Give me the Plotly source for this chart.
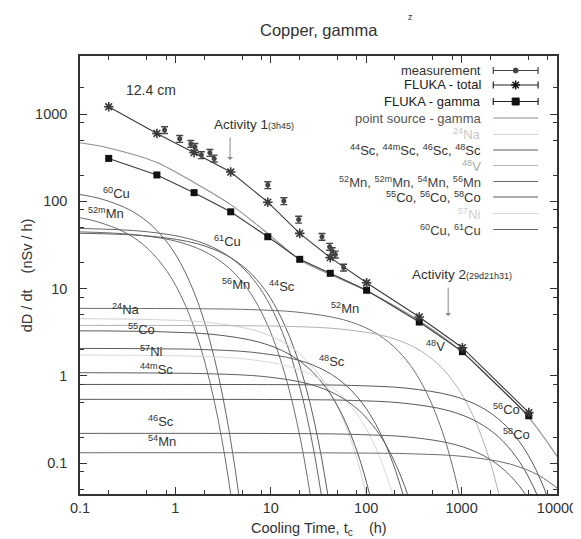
import plotly.graph_objects as go

# ---------------- data ----------------
fluka_t = [0.2, 0.64, 1.57, 3.8, 9.3, 20.1, 42, 101, 360, 1019, 5060]
fluka_total = [1216, 601, 362, 217, 98, 43, 22.7, 11.7, 4.74, 2.11, 0.38]
fluka_gamma = [311, 201, 126, 76, 39.4, 21.7, 15.0, 9.6, 4.15, 1.90, 0.35]

meas_t = [0.77, 1.11, 1.45, 1.6, 1.87, 2.3, 2.55, 9.3, 13.7, 19.6, 34.4, 41.4, 44, 47.5, 58]
meas_d = [658, 522, 458, 423, 340, 361, 311, 154, 101, 62, 39.4, 30.3, 27, 24.7, 17.5]
meas_err_pct = 9

sum_t = [0.1, 0.2, 0.64, 1.57, 3.8, 9.3, 20, 42, 100, 360, 1000, 5000, 10000]
sum_d = [470, 410, 280, 165, 92, 43, 21.5, 14.5, 9.5, 4.3, 1.9, 0.34, 0.12]

cu60_t = [0.1, 0.171, 0.342, 0.57, 0.855, 1.14, 1.425, 1.71, 1.995, 2.28, 2.565, 2.85, 3.135, 3.42, 3.705, 3.99, 4.275, 4.56, 5.13]
cu60_d = [120, 106, 78.5, 52.6, 31.9, 19.4, 11.7, 7.12, 4.32, 2.62, 1.59, 0.964, 0.584, 0.354, 0.215, 0.130, 0.0791, 0.0479, 0.0176]

mn52m_t = [0.1, 0.152, 0.305, 0.508, 0.762, 1.016, 1.27, 1.524, 1.778, 2.032, 2.286, 2.54, 2.794, 3.048, 3.302, 3.556, 3.81, 4.064]
mn52m_d = [65, 58.5, 43.4, 29.1, 17.6, 10.7, 6.48, 3.93, 2.39, 1.447, 0.878, 0.532, 0.323, 0.196, 0.119, 0.0720, 0.0437, 0.0265]

mn56_t = [0.1, 0.372, 1.116, 2.232, 3.72, 5.58, 7.44, 9.3, 11.16, 13.02, 14.88, 16.74, 18.6, 20.46, 22.32, 24.18, 26.04, 27.9]
mn56_d = [44.8, 41.6, 34.1, 25.2, 16.9, 10.3, 6.22, 3.78, 2.29, 1.389, 0.843, 0.511, 0.310, 0.188, 0.114, 0.0691, 0.0420, 0.0254]

cu61_t = [0.1, 0.48, 1.44, 2.88, 4.8, 7.2, 9.6, 12.0, 14.4, 16.8, 19.2, 21.6, 24.0, 26.4, 28.8, 31.2, 33.6, 36.0]
cu61_d = [49.0, 45.2, 37.0, 27.4, 18.4, 11.2, 6.77, 4.10, 2.49, 1.51, 0.916, 0.556, 0.337, 0.204, 0.124, 0.0752, 0.0456, 0.0277]

sc44_t = [0.1, 0.573, 1.719, 3.438, 5.73, 8.6, 11.46, 14.3, 17.2, 20.1, 22.9, 25.8, 28.65, 31.5, 34.4, 37.2, 40.1, 43.0]
sc44_d = [43.2, 39.8, 32.6, 24.1, 16.2, 9.82, 5.95, 3.61, 2.19, 1.329, 0.806, 0.489, 0.296, 0.180, 0.109, 0.0661, 0.0401, 0.0243]

mn52_t = [0.1, 1.93, 5.79, 19.3, 57.9, 115.8, 193, 290, 386, 483, 579, 676, 772, 869, 965, 1062]
mn52_d = [5.95, 5.89, 5.77, 5.38, 4.41, 3.27, 2.19, 1.328, 0.805, 0.488, 0.296, 0.180, 0.109, 0.0661, 0.0401, 0.0243]

na24_t = [0.1, 0.216, 0.648, 2.16, 6.48, 12.96, 21.6, 32.4, 43.2, 54, 64.8, 75.6, 86.4, 97.2, 108]
na24_d = [4.53, 4.50, 4.41, 4.12, 3.37, 2.50, 1.674, 1.015, 0.616, 0.373, 0.227, 0.137, 0.0834, 0.0506, 0.0307]

v48_t = [0.1, 5.53, 16.6, 55.3, 166, 332, 553, 830, 1106, 1383, 1659, 1936, 2212, 2489, 2765]
v48_d = [3.80, 3.76, 3.69, 3.44, 2.82, 2.09, 1.398, 0.848, 0.514, 0.312, 0.189, 0.115, 0.0696, 0.0422, 0.0256]

co55_t = [0.1, 0.252, 0.756, 2.52, 7.56, 15.1, 25.2, 37.8, 50.4, 63, 75.6, 88.2, 100.8, 113.4, 126]
co55_d = [3.29, 3.27, 3.20, 2.99, 2.44, 1.81, 1.214, 0.736, 0.447, 0.271, 0.164, 0.0997, 0.0605, 0.0367, 0.0222]

sc48_t = [0.1, 0.63, 1.89, 6.3, 18.9, 37.8, 63, 94.5, 126, 157.5, 189, 220.5, 252, 283.5]
sc48_d = [2.07, 2.05, 2.01, 1.873, 1.533, 1.136, 0.762, 0.462, 0.280, 0.170, 0.103, 0.0625, 0.0379, 0.0230]

ni57_t = [0.1, 0.514, 1.54, 5.14, 15.4, 30.8, 51.4, 77.1, 102.8, 128.5, 154.2, 179.9, 205.6, 231]
ni57_d = [1.74, 1.72, 1.69, 1.574, 1.289, 0.955, 0.640, 0.388, 0.235, 0.143, 0.0866, 0.0525, 0.0319, 0.0193]

sc44m_t = [0.1, 0.845, 2.535, 8.45, 25.4, 50.7, 84.5, 126.8, 169, 211, 253.5, 296, 338]
sc44m_d = [1.09, 1.079, 1.057, 0.986, 0.807, 0.598, 0.401, 0.243, 0.1475, 0.0895, 0.0543, 0.0329, 0.0200]

co56_t = [0.1, 26.7, 80.2, 267, 802, 1604, 2674, 4011, 5348, 6685, 8022, 9359]
co56_d = [0.80, 0.792, 0.776, 0.724, 0.593, 0.439, 0.294, 0.1785, 0.1083, 0.0657, 0.0398, 0.0242]

co58_t = [0.1, 24.5, 73.6, 245, 736, 1472, 2453, 3680, 4906, 6133, 7359]
co58_d = [0.54, 0.535, 0.524, 0.489, 0.400, 0.296, 0.199, 0.1205, 0.0731, 0.0443, 0.0269]

sc46_t = [0.1, 29, 87, 290, 870, 1741, 2901, 4352, 5802]
sc46_d = [0.22, 0.218, 0.213, 0.199, 0.163, 0.1207, 0.0809, 0.0491, 0.0298]

mn54_t = [0.1, 108, 324, 1081, 3242, 6484, 10806]
mn54_d = [0.132, 0.1307, 0.128, 0.1194, 0.0978, 0.0724, 0.0486]

x_ticks = [0.1, 1, 10, 100, 1000, 10000]
x_ticktext = ["0.1", "1", "10", "100", "1000", "10000"]
y_ticks = [0.1, 1, 10, 100, 1000]
y_ticktext = ["0.1", "1", "10", "100", "1000"]
minor_digits = [2, 5, 8]

# ---------------- styling ----------------
FONT = "Liberation Sans, Arial, Helvetica, sans-serif"
C_SC, C_MN, C_CO, C_CU = "#5e5e5e", "#6e6e6e", "#585858", "#666666"
C_NA, C_V, C_NI, C_SUM = "#d2d2d2", "#b2b2b2", "#d9d9d9", "#8e8e8e"

W, H = 581, 539
L, R, T, B = 72, 551, 48, 486


def pxx(x):
    return (x - L) / (R - L)


def pxy(y):
    return (B - y) / (B - T)


fig = go.Figure()

curves = [
    (cu60_t, cu60_d, C_CU), (mn52m_t, mn52m_d, C_MN), (mn56_t, mn56_d, C_MN),
    (cu61_t, cu61_d, C_CU), (sc44_t, sc44_d, C_SC), (mn52_t, mn52_d, C_MN),
    (na24_t, na24_d, C_NA), (v48_t, v48_d, C_V), (co55_t, co55_d, C_CO),
    (sc48_t, sc48_d, C_SC), (ni57_t, ni57_d, C_NI), (sc44m_t, sc44m_d, C_SC),
    (co56_t, co56_d, C_CO), (co58_t, co58_d, C_CO), (sc46_t, sc46_d, C_SC),
    (mn54_t, mn54_d, C_MN),
]
for tx, dy, col in curves:
    fig.add_trace(go.Scatter(x=tx, y=dy, mode="lines",
                             line=dict(color=col, width=1, shape="spline", smoothing=1),
                             hoverinfo="skip"))

fig.add_trace(go.Scatter(x=sum_t, y=sum_d, mode="lines",
                         line=dict(color=C_SUM, width=1.1, shape="spline", smoothing=0.8)))

fig.add_trace(go.Scatter(x=fluka_t, y=fluka_gamma, mode="lines+markers",
                         line=dict(color="#3a3a3a", width=1.1),
                         marker=dict(symbol="square", size=7, color="#111")))
fig.add_trace(go.Scatter(x=fluka_t, y=fluka_total, mode="lines+markers",
                         line=dict(color="#3a3a3a", width=1.1),
                         marker=dict(symbol="asterisk-open", size=8,
                                     line=dict(color="#111", width=1.6))))
fig.add_trace(go.Scatter(x=meas_t, y=meas_d, mode="markers",
                         marker=dict(symbol="circle", size=5, color="#444"),
                         error_y=dict(type="percent", value=meas_err_pct,
                                      color="#444", thickness=1.4, width=3.5)))

minor_x = [d * 10 ** e for e in range(-1, 4) for d in minor_digits]
minor_y = [d * 10 ** e for e in range(-2, 4) for d in minor_digits]

axis_common = dict(type="log", showgrid=False, zeroline=False, showline=True,
                   linecolor="#333", linewidth=1.5, mirror="ticks",
                   ticks="inside", ticklen=7, tickwidth=1, tickcolor="#333",
                   tickfont=dict(family=FONT, size=14.5, color="#333"))

fig.update_xaxes(range=[-1, 4], tickmode="array", tickvals=x_ticks, ticktext=x_ticktext,
                 ticklabelstandoff=0,
                 minor=dict(tickmode="array", tickvals=minor_x, ticks="inside",
                            ticklen=4, tickcolor="#333", showgrid=False),
                 **axis_common)
fig.update_yaxes(range=[-1.352, 3.666], tickmode="array", tickvals=y_ticks, ticktext=y_ticktext,
                 ticklabelstandoff=8,
                 minor=dict(tickmode="array", tickvals=minor_y, ticks="inside",
                            ticklen=4, tickcolor="#333", showgrid=False),
                 **axis_common)

ann = []
shapes = []


def text(xp, yp, s, size=13.5, color="#333", xa="left", ya="bottom", **kw):
    ann.append(dict(x=pxx(xp), y=pxy(yp), xref="paper", yref="paper", text=s,
                    showarrow=False, xanchor=xa, yanchor=ya,
                    font=dict(family=FONT, size=size, color=color), **kw))


# title and axis titles
text(311.5, 22, "Copper, gamma", size=16.5, xa="center", ya="middle")
text(404, 9, "z", size=9, xa="center", ya="middle")
text(311.5, 521, "Cooling Time, t<sub>c</sub>    (h)", size=14.5, xa="center", ya="middle")
text(19, 267, "dD / dt    (nSv / h)", size=14.5, xa="center", ya="middle", textangle=-90)
text(143, 82, "12.4 cm", size=14, xa="center", ya="middle")

# activity arrows
text(205, 126, "Activity 1<span style='font-size:9px'>(3h45)</span>", size=13.5)
text(403, 276, "Activity 2<span style='font-size:9px'>(29d21h31)</span>", size=13.5)
for xa_, tip, tail in [(222.7, 152, 128), (441.7, 308, 278)]:
    ann.append(dict(x=pxx(xa_), y=pxy(tip), xref="paper", yref="paper", text="",
                    showarrow=True, ax=0, ay=-(tip - tail), arrowhead=1, arrowsize=1,
                    arrowwidth=1, arrowcolor="#888"))

# nuclide labels on the curves (left x, baseline y in px)
labels = [
    ("<sup>60</sup>Cu", 93, 197), ("<sup>52m</sup>Mn", 78, 217), ("<sup>61</sup>Cu", 205, 245),
    ("<sup>56</sup>Mn", 213, 288), ("<sup>44</sup>Sc", 260, 290), ("<sup>24</sup>Na", 102, 313),
    ("<sup>55</sup>Co", 118, 333), ("<sup>57</sup>Ni", 130, 355), ("<sup>44m</sup>Sc", 130, 373),
    ("<sup>46</sup>Sc", 138, 425), ("<sup>54</sup>Mn", 138, 445), ("<sup>52</sup>Mn", 322, 312),
    ("<sup>48</sup>Sc", 310, 365), ("<sup>48</sup>V", 417, 350), ("<sup>56</sup>Co", 485, 413),
    ("<sup>58</sup>Co", 495, 438),
]
for s, lx, by in labels:
    text(lx, by - 2, s, size=13)

# legend (gnuplot style: text right, sample on the right)
leg_rows = [
    ("measurement", "#333", "#444", "dot"),
    ("FLUKA - total", "#222", "#222", "star"),
    ("FLUKA - gamma", "#222", "#222", "square"),
    ("point source - gamma", "#555", C_SUM, None),
    ("<sup>24</sup>Na", "#c8c8c8", C_NA, None),
    ("<sup>44</sup>Sc, <sup>44m</sup>Sc, <sup>46</sup>Sc, <sup>48</sup>Sc", "#333", C_SC, None),
    ("<sup>48</sup>V", "#aaa", C_V, None),
    ("<sup>52</sup>Mn, <sup>52m</sup>Mn, <sup>54</sup>Mn, <sup>56</sup>Mn", "#444", C_MN, None),
    ("<sup>55</sup>Co, <sup>56</sup>Co, <sup>58</sup>Co", "#333", C_CO, None),
    ("<sup>57</sup>Ni", "#d0d0d0", C_NI, None),
    ("<sup>60</sup>Cu, <sup>61</sup>Cu", "#444", C_CU, None),
]
leg_y = [62.5, 77, 93.5, 110, 126.5, 142, 157.5, 173.5, 189, 205.5, 221.5]
x0, x1, xm = 487, 532, 509.5


def seg(xa, ya, xb, yb, col, w=1.2):
    shapes.append(dict(type="line", xref="paper", yref="paper",
                       x0=pxx(xa), y0=pxy(ya), x1=pxx(xb), y1=pxy(yb),
                       line=dict(color=col, width=w)))


for (s, tcol, lcol, sym), yy in zip(leg_rows, leg_y):
    text(477, yy, s, size=13, color=tcol, xa="right", ya="middle")
    seg(x0, yy, x1, yy, lcol, 1.2 if sym else 1.1)
    if sym:
        seg(x0, yy - 3.5, x0, yy + 3.5, lcol)
        seg(x1, yy - 3.5, x1, yy + 3.5, lcol)
    if sym == "dot":
        shapes.append(dict(type="circle", xref="paper", yref="paper",
                           x0=pxx(xm - 2.5), x1=pxx(xm + 2.5), y0=pxy(yy + 2.5), y1=pxy(yy - 2.5),
                           fillcolor="#444", line=dict(color="#444", width=1)))
    elif sym == "square":
        shapes.append(dict(type="rect", xref="paper", yref="paper",
                           x0=pxx(xm - 3.5), x1=pxx(xm + 3.5), y0=pxy(yy + 3.5), y1=pxy(yy - 3.5),
                           fillcolor="#111", line=dict(color="#111", width=1)))
    elif sym == "star":
        r = 4.5
        seg(xm - r, yy, xm + r, yy, "#111", 1.5)
        seg(xm, yy - r, xm, yy + r, "#111", 1.5)
        seg(xm - 3.2, yy - 3.2, xm + 3.2, yy + 3.2, "#111", 1.5)
        seg(xm - 3.2, yy + 3.2, xm + 3.2, yy - 3.2, "#111", 1.5)

fig.update_layout(width=W, height=H, autosize=False,
                  margin=dict(l=L, r=W - R, t=T, b=H - B, pad=0),
                  plot_bgcolor="white", paper_bgcolor="white",
                  showlegend=False, annotations=ann, shapes=shapes,
                  font=dict(family=FONT, color="#333"))

fig.write_html("out.html")
